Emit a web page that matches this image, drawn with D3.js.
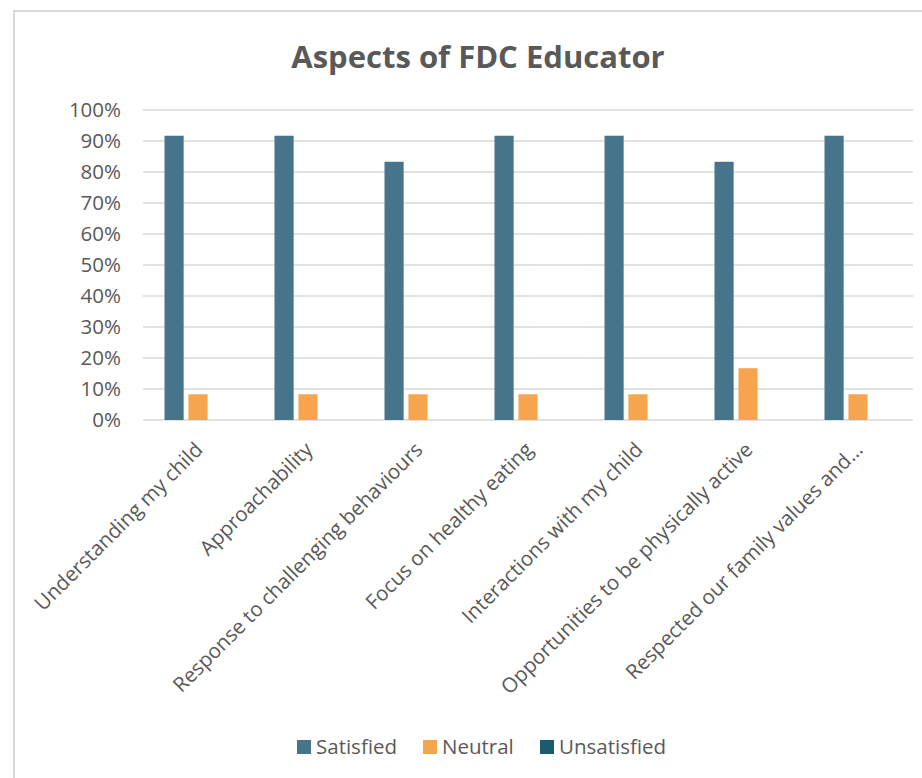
<!DOCTYPE html>
<html>
<head>
<meta charset="utf-8">
<script src="https://cdn.jsdelivr.net/npm/d3@7/dist/d3.min.js"></script>
<style>
  html, body { margin: 0; padding: 0; background: #ffffff; }
  svg { display: block; }
  text { font-family: "Open Sans", "Noto Sans", sans-serif; fill: #595959; }
</style>
</head>
<body>
<svg id="chart" width="922" height="778"></svg>
<script>
const categories = [
  "Understanding my child",
  "Approachability",
  "Response to challenging behaviours",
  "Focus on healthy eating",
  "Interactions with my child",
  "Opportunities to be physically active",
  "Respected our family values and\u2026"
];
const seriesNames = ["Satisfied", "Neutral", "Unsatisfied"];
const satisfied   = [0.917, 0.917, 0.833, 0.917, 0.917, 0.833, 0.917];
const neutral     = [0.083, 0.083, 0.083, 0.083, 0.083, 0.167, 0.083];
const unsatisfied = [0, 0, 0, 0, 0, 0, 0];
const yTicks = [0, 0.1, 0.2, 0.3, 0.4, 0.5, 0.6, 0.7, 0.8, 0.9, 1.0];
const colors = ["#46758B", "#F6A54E", "#1B5A6F"];

const seriesValues = [satisfied, neutral, unsatisfied];

const svg = d3.select("#chart");

// chart area border (Excel-style frame)
svg.append("rect")
  .attr("x", 14).attr("y", 11)
  .attr("width", 940).attr("height", 800)
  .attr("fill", "none")
  .attr("stroke", "#d9d9d9")
  .attr("stroke-width", 2);

const plot = { left: 143, right: 913, top: 110, bottom: 420 };

const x = d3.scaleBand()
  .domain(categories)
  .range([plot.left, plot.right])
  .paddingInner(0).paddingOuter(0);

const y = d3.scaleLinear()
  .domain([0, 1])
  .range([plot.bottom, plot.top]);

const groupWidth = 67;
const xs = d3.scaleBand()
  .domain(seriesNames)
  .range([0, groupWidth])
  .paddingInner(0.2);

// gridlines
svg.append("g")
  .selectAll("line")
  .data(yTicks)
  .join("line")
  .attr("x1", plot.left).attr("x2", plot.right)
  .attr("y1", d => y(d)).attr("y2", d => y(d))
  .attr("stroke", "#d9d9d9")
  .attr("stroke-width", 1.4);

// y axis labels
const yAxis = d3.axisLeft(y)
  .tickValues(yTicks)
  .tickFormat(d3.format(".0%"))
  .tickSize(0)
  .tickPadding(0);
const yg = svg.append("g")
  .attr("transform", `translate(121,0)`)
  .call(yAxis);
yg.select(".domain").remove();
yg.selectAll("text")
  .attr("font-size", "20.5px")
  .attr("fill", "#595959")
  .style("font-family", "'Open Sans', sans-serif");

// bars
const groups = svg.append("g")
  .selectAll("g")
  .data(categories)
  .join("g")
  .attr("transform", d => `translate(${x(d) + (x.bandwidth() - groupWidth) / 2},0)`);

groups.selectAll("rect")
  .data((d, i) => seriesNames.map((s, j) => ({ s, j, v: seriesValues[j][i] })))
  .join("rect")
  .attr("x", d => xs(d.s))
  .attr("width", xs.bandwidth())
  .attr("y", d => y(d.v))
  .attr("height", d => y(0) - y(d.v))
  .attr("fill", d => colors[d.j]);

// x axis labels
const xAxis = d3.axisBottom(x).tickSize(0).tickPadding(0);
const xg = svg.append("g")
  .attr("transform", `translate(0,${plot.bottom})`)
  .call(xAxis);
xg.select(".domain").remove();
xg.selectAll("text")
  .attr("font-size", "20.5px")
  .attr("fill", "#595959")
  .style("font-family", "'Open Sans', sans-serif")
  .attr("text-anchor", "end")
  .attr("dy", null)
  .attr("y", 0)
  .attr("transform", "translate(6,31) rotate(-45)");

// title
svg.append("text")
  .attr("x", 478).attr("y", 68)
  .attr("text-anchor", "middle")
  .attr("font-size", "31px")
  .attr("font-weight", "bold")
  .attr("fill", "#595959")
  .text("Aspects of FDC Educator");

// legend
const legendX = [297, 423, 540];
const lg = svg.append("g")
  .selectAll("g")
  .data(seriesNames)
  .join("g")
  .attr("transform", (d, i) => `translate(${legendX[i]},740)`);
lg.append("rect")
  .attr("width", 14).attr("height", 14)
  .attr("fill", (d, i) => colors[i]);
lg.append("text")
  .attr("x", 19).attr("y", 14)
  .attr("font-size", "20.5px")
  .attr("fill", "#595959")
  .text(d => d);
</script>
</body>
</html>
